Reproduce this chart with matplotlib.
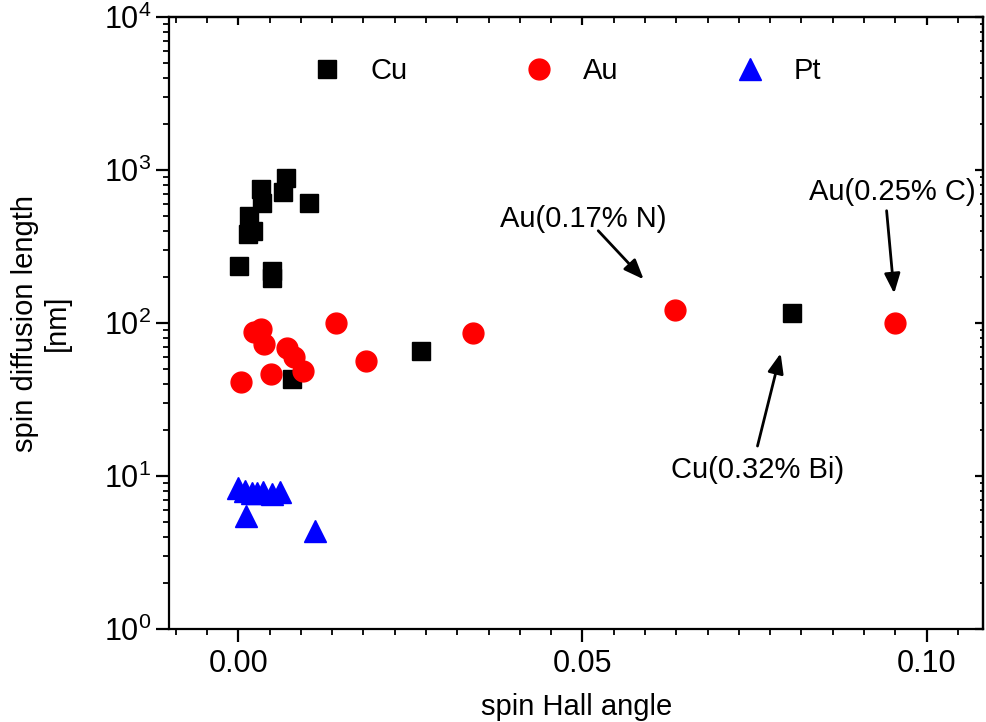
import matplotlib
matplotlib.use("Agg")
import matplotlib.pyplot as plt
from matplotlib.ticker import AutoMinorLocator, FormatStrFormatter, LogLocator, NullFormatter

plt.rcParams['font.family'] = ['Liberation Sans', 'DejaVu Sans']
plt.rcParams['mathtext.fontset'] = 'custom'
plt.rcParams['mathtext.rm'] = 'Liberation Sans'
plt.rcParams['mathtext.it'] = 'Liberation Sans:italic'

# ---- data ----
cu_x = [0.00689, 0.00326, 0.00645, 0.0034, 0.01028, 0.0016, 0.00137, 0.00218,
        0.00015, 0.00485, 0.00485, 0.00776, 0.02655, 0.0805]
cu_y = [883, 748, 721, 606, 606, 500, 382, 399, 236, 219, 197, 42.9, 65.6, 116]

au_x = [0.00233, 0.00326, 0.00378, 0.00703, 0.0081, 0.00945, 0.00471, 0.00035,
        0.0142, 0.0186, 0.0341, 0.0634, 0.0954]
au_y = [87.3, 91.4, 72.6, 69, 60.3, 48.8, 46.2, 41.3, 99.5, 56.5, 86, 121.5, 100]

pt_x = [0.0, 0.00097, 0.00195, 0.00267, 0.00364, 0.00494, 0.00606, 0.00112, 0.01115]
pt_y = [8.3, 8.0, 7.8, 7.8, 7.86, 7.6, 7.86, 5.48, 4.37]

labels = ["Au(0.17% N)", "Au(0.25% C)", "Cu(0.32% Bi)"]
label_xy = [(0.0501, 478), (0.0951, 721), (0.0755, 10.9)]
arrow_start = [(0.0523, 401), (0.0942, 542), (0.07544, 15.7)]
arrow_tip = [(0.0589, 193), (0.0953, 156), (0.0788, 63.4)]

xticks = [0.00, 0.05, 0.10]

fig = plt.figure(figsize=(9.87, 7.22), dpi=100)
ax = fig.add_axes([0.1717, 0.1288, 0.8242, 0.8476])

ax.plot(cu_x, cu_y, 's', color='black', ms=13.5, mec='black', label='Cu', zorder=3)
ax.plot(au_x, au_y, 'o', color='red', ms=15, mec='red', label='Au', zorder=3)
ax.plot(pt_x, pt_y, '^', color='blue', ms=16, mec='blue', label='Pt', zorder=3)

ax.set_yscale('log')
ax.set_xlim(-0.0100, 0.1082)
ax.set_ylim(1, 1e4)

ax.set_xticks(xticks)
ax.xaxis.set_major_formatter(FormatStrFormatter('%.2f'))
ax.xaxis.set_minor_locator(AutoMinorLocator(11))
ax.yaxis.set_major_locator(LogLocator(base=10, numticks=10))
ax.yaxis.set_minor_locator(LogLocator(base=10, subs=range(2, 10), numticks=20))
ax.yaxis.set_minor_formatter(NullFormatter())

for s in ax.spines.values():
    s.set_linewidth(1.6)

ax.tick_params(which='major', direction='out', length=9.5, width=1.6, labelsize=22,
               top=False, right=False)
ax.tick_params(which='minor', direction='out', length=4.5, width=1.3,
               top=False, right=False)
ax.tick_params(axis='x', which='major', pad=5)

# mirrored inward ticks on top/right
secx = ax.secondary_xaxis('top')
secx.set_xticks(xticks)
secx.xaxis.set_minor_locator(AutoMinorLocator(11))
secx.tick_params(which='major', direction='in', length=6, width=1.6, labeltop=False)
secx.tick_params(which='minor', direction='in', length=4, width=1.3)
secx.spines['top'].set_linewidth(1.6)

secy = ax.secondary_yaxis('right')
secy.yaxis.set_major_locator(LogLocator(base=10, numticks=10))
secy.yaxis.set_minor_locator(LogLocator(base=10, subs=range(2, 10), numticks=20))
secy.yaxis.set_minor_formatter(NullFormatter())
secy.tick_params(which='major', direction='in', length=6, width=1.6, labelright=False)
secy.tick_params(which='minor', direction='in', length=2.5, width=1.3)
secy.spines['right'].set_linewidth(1.6)

ax.set_xlabel('spin Hall angle', fontsize=21, labelpad=10)
ax.set_ylabel('spin diffusion length\n[nm]', fontsize=21, labelpad=24, linespacing=1.15)

leg = ax.legend(ncol=3, loc='center left', bbox_to_anchor=(0.176, 0.912),
                frameon=False, fontsize=21, handlelength=1.0, handletextpad=1.0,
                columnspacing=4.0, borderpad=0, borderaxespad=0, numpoints=1)

for txt, (tx, ty), (sx, sy), (ex, ey) in zip(labels, label_xy, arrow_start, arrow_tip):
    ax.text(tx, ty, txt, fontsize=21, ha='center', va='center')
    ax.annotate('', xy=(ex, ey), xytext=(sx, sy),
                arrowprops=dict(arrowstyle='-|>,head_length=0.5,head_width=0.2',
                                color='black', lw=2,
                                mutation_scale=24, shrinkA=0, shrinkB=0))

fig.savefig('out.png', dpi=100)
